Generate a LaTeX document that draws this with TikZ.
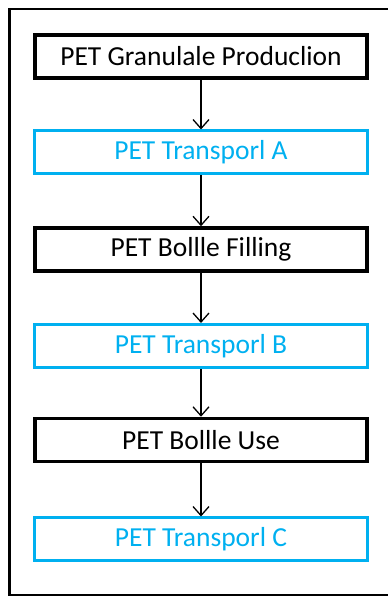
\documentclass[tikz,border=0pt]{standalone}
\usepackage{fontspec}
\setmainfont{Carlito}
\usetikzlibrary{arrows.meta}
\definecolor{lblue}{HTML}{00B0F0}
\tikzset{
  x=1pt, y=1pt,
  blackbox/.style={draw=black, line width=3.5pt, minimum width=332pt, minimum height=43pt, inner sep=0pt, font=\fontsize{27.5}{31}\selectfont, text=black},
  bluebox/.style={draw=lblue, line width=3pt, minimum width=333pt, minimum height=43pt, inner sep=0pt, font=\fontsize{27.5}{31}\selectfont, text=lblue},
  flow/.style={draw=black, line width=1.3pt, -{Straight Barb[length=9pt,width=16pt,line width=1.3pt]}},
  frame/.style={draw=black, line width=2.5pt}
}
\begin{document}
\begin{tikzpicture}
\useasboundingbox (0,0) rectangle (388,597);
\coordinate (ftr) at (395,588);
\coordinate (ftl) at (9.5,588);
\coordinate (fbl) at (9.5,2);
\coordinate (fbr) at (395,2);
\draw[frame] (ftr) -- (ftl) -- (fbl) -- (fbr);
\node[blackbox] (n1) at (201,540.5) {PET Granulale Produclion};
\node[bluebox]  (n2) at (201,444.5) {PET Transporl A};
\node[blackbox] (n3) at (201,347.5) {PET Bollle Filling};
\node[bluebox]  (n4) at (201,251) {PET Transporl B};
\node[blackbox] (n5) at (201,157) {PET Bollle Use};
\node[bluebox]  (n6) at (201,57.5) {PET Transporl C};
\draw[flow] (n1.south) -- (n2.north);
\draw[flow] (n2.south) -- (n3.north);
\draw[flow] (n3.south) -- (n4.north);
\draw[flow] (n4.south) -- (n5.north);
\draw[flow] (n5.south) -- (n6.north);
\end{tikzpicture}
\end{document}
